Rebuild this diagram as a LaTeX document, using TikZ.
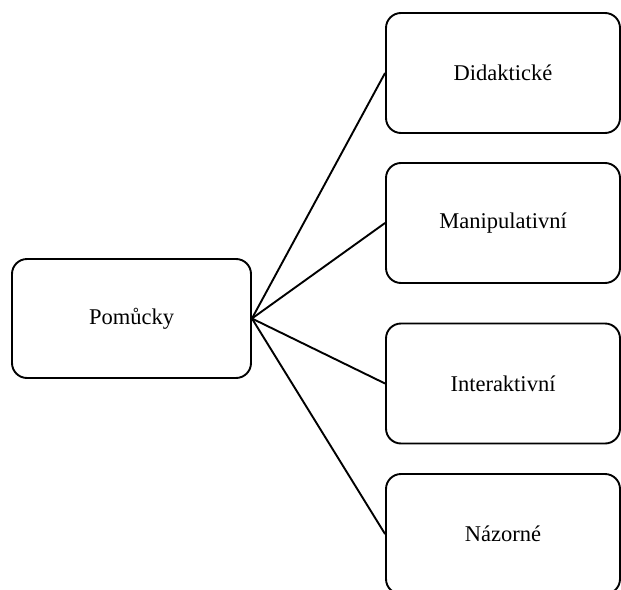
\documentclass[tikz,border=0pt]{standalone}
\usepackage{fontspec}
\setmainfont{Liberation Serif}
\usetikzlibrary{shapes,arrows,calc}

\tikzset{
	box/.style={draw, line width=1.9pt, rounded corners=15pt, inner sep=0pt,
		font=\fontsize{22.5}{27}\selectfont},
	spoj/.style={line width=1.9pt}
}

\begin{document}
\begin{tikzpicture}[x=1pt,y=-1pt]
				\useasboundingbox (0,0) rectangle (621,589);
				\clip (0,0) rectangle (621,589);
				\node[box, minimum width=239pt, minimum height=119pt] (pomucky) at (131.5,318.5) {Pomůcky};
				\node[box, minimum width=234pt, minimum height=120pt] (didakticke) at (503,73) {Didaktické};
				\node[box, minimum width=234pt, minimum height=120pt] (manipulativni) at (503,223) {Manipulativní};
				\node[box, minimum width=234pt, minimum height=120pt] (interaktivni) at (503,383.5) {Interaktivní};
				\node[box, minimum width=234pt, minimum height=120pt] (nazorne) at (503,534) {Názorné};
				\foreach \n in {didakticke, manipulativni, interaktivni, nazorne}
					\draw[spoj] (pomucky.east) -- (\n.west);
 			\end{tikzpicture}
\end{document}
